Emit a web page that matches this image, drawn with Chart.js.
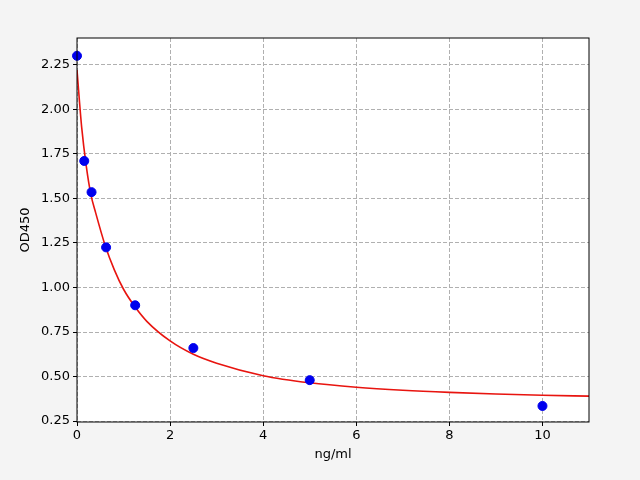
<!DOCTYPE html>
<html><head><script src="https://cdn.jsdelivr.net/npm/chart.js"></script>
<style>html,body{margin:0;background:#f4f4f4}#w{width:640px;height:480px}</style></head>
<body><div id="w"><canvas id="c"></canvas></div>
<script>
const pointX=[0,0.156,0.3125,0.625,1.25,2.5,5,10];
const pointY=[2.30,1.71,1.535,1.225,0.90,0.66,0.48,0.335];
const curveX=[0,0.1,0.2,0.3,0.4,0.6,0.8,1.0,1.25,1.5,2,2.5,3,4,5,6,7,8,9,10,11];
const curveY=[2.22,1.90,1.68,1.52,1.42,1.24,1.10,0.99,0.89,0.81,0.70,0.625,0.575,0.505,0.465,0.44,0.423,0.411,0.402,0.395,0.39];
const xTicks=[0,2,4,6,8,10];
const bg={id:'bg',beforeDraw(c){const a=c.chartArea,x=c.ctx;x.save();x.fillStyle='#fff';x.fillRect(a.left,a.top,a.right-a.left,a.bottom-a.top);x.restore();},
afterDraw(c){const a=c.chartArea,x=c.ctx;x.save();x.strokeStyle='#000';x.lineWidth=1;x.strokeRect(a.left,a.top,a.right-a.left,a.bottom-a.top);x.restore();}};
Chart.defaults.font.family='DejaVu Sans';Chart.defaults.font.size=13;Chart.defaults.color='#000';
new Chart(document.getElementById('c'),{type:'scatter',plugins:[bg],
data:{datasets:[
{type:'line',data:curveX.map((v,i)=>({x:v,y:curveY[i]})),borderColor:'#e8140f',borderWidth:1.6,pointRadius:0,cubicInterpolationMode:'monotone',order:2},
{data:pointX.map((v,i)=>({x:v,y:pointY[i]})),backgroundColor:'#0000ee',borderColor:'#0000ee',pointRadius:4.5,order:1,clip:false}]},
options:{animation:false,responsive:true,maintainAspectRatio:false,
layout:{padding:{top:38,right:51,left:14,bottom:14}},
plugins:{legend:{display:false},tooltip:{enabled:false}},
scales:{
x:{type:'linear',min:0,max:11,afterBuildTicks(s){s.ticks=xTicks.map(v=>({value:v}));},afterFit(s){s.height=44;},
title:{display:true,text:'ng/ml',padding:{top:2}},
grid:{color:'#b0b0b0',tickColor:'#000',tickLength:4,drawTicks:true},border:{dash:[4,2],display:false},ticks:{padding:2}},
y:{min:0.245,max:2.40,afterBuildTicks(s){const t=[];for(let v=0.25;v<=2.251;v+=0.25)t.push({value:v});s.ticks=t;},afterFit(s){s.width=63;},
title:{display:true,text:'OD450',padding:{bottom:2}},
grid:{color:'#b0b0b0',tickColor:'#000',tickLength:4},border:{dash:[4,2],display:false},ticks:{padding:3,callback:v=>v.toFixed(2)}}}}});
</script></body></html>
